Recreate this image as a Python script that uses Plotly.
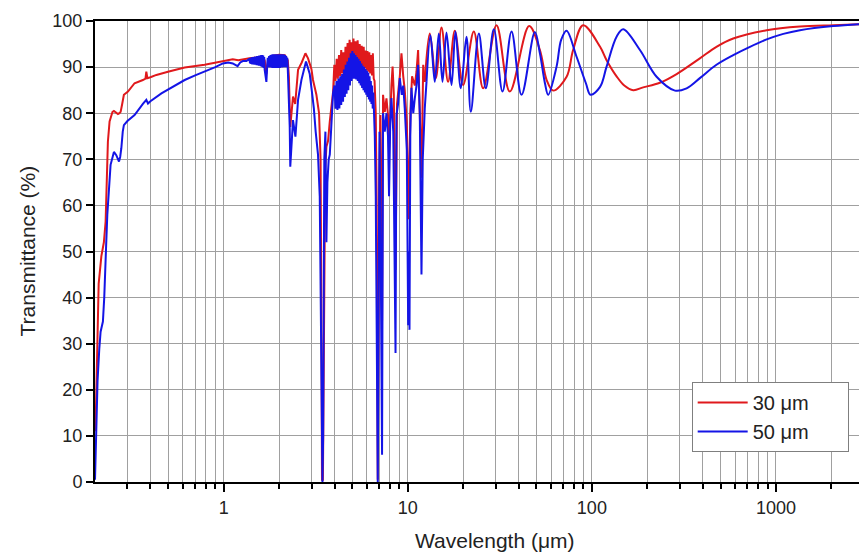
import math
import plotly.graph_objects as go

# ---------------- data ----------------
# 30 um film, short-wavelength / absorption part (linear segments)
wl_30_a = [
    0.2012, 0.2035, 0.2060, 0.2094, 0.2166, 0.2235, 0.2284, 0.2320, 0.2350, 0.2400,
    0.2490, 0.2534, 0.2590, 0.2665, 0.2715, 0.2756, 0.2810, 0.2870, 0.3020, 0.3280,
    0.3640, 0.3760, 0.3800, 0.3850, 0.4000, 0.4310, 0.4980, 0.6140, 0.7880, 0.9900,
    1.1200, 1.2000, 1.2700, 1.3800, 1.5000, 1.6000, 1.6700, 1.7060, 1.7400, 1.8500,
    2.0000, 2.1500, 2.2300, 2.2600, 2.3000, 2.3400, 2.3800, 2.4460, 2.5350, 2.6540,
    2.7800, 2.8720, 2.9960, 3.0570, 3.1890, 3.2960, 3.3600, 3.4000, 3.4200, 3.4600,
    3.5000, 3.5600, 3.6150, 3.6900, 3.7700, 3.8500, 3.9300,
    3.99, 4.05, 4.11, 4.17, 4.23, 4.29, 4.35, 4.41, 4.47, 4.53,
    4.59, 4.65, 4.71, 4.77, 4.83, 4.89, 4.95, 5.01, 5.07, 5.13,
    5.20, 5.27, 5.34, 5.41, 5.48, 5.55, 5.62, 5.69, 5.76, 5.83,
    5.90, 5.97, 6.04, 6.11, 6.18, 6.25, 6.32, 6.39, 6.46, 6.53,
    6.60,
    6.70, 6.78, 6.87, 6.95, 7.00, 7.10, 7.25, 7.34, 7.50, 7.66,
    7.81, 7.91, 8.03, 8.15, 8.27, 8.40, 8.58, 8.74, 9.05, 9.24,
    9.45, 9.63, 9.88, 10.13, 10.32, 10.55, 10.92, 11.15, 11.38, 11.62,
    11.87, 12.13, 12.37,
]
t_30_a = [
    11, 22, 30, 43, 49, 52, 56.5, 65, 73.8, 78.2,
    80.3, 80.5, 80.2, 79.8, 80.0, 80.3, 82, 84, 84.7, 86.5,
    87.2, 87.5, 89, 87.6, 87.8, 88.3, 89, 89.9, 90.5, 91.2,
    91.7, 91.5, 91.6, 91.9, 92.1, 92.3, 91.5, 88.5, 91.5, 92.5,
    92.7, 92.6, 91.5, 88, 77, 80.5, 83.6, 82, 89.4, 91,
    93, 91.9, 89.6, 87.2, 84, 80, 70, 30, 0.5, 0.5,
    40, 68, 72.7, 74, 78.2, 82, 84.7,
    90.5, 87, 91.8, 87.5, 92.6, 88, 93.7, 88.6, 93.2, 89.2,
    94.4, 89.8, 95.2, 90.3, 95.9, 91, 95.4, 91.4, 96.2, 91.5,
    95.6, 91.2, 95.8, 90.8, 95, 90.5, 94.6, 90.2, 94.4, 89.8,
    93.6, 89.3, 93.5, 89, 93.2, 88.6, 92.6, 88.2, 93, 87.5,
    87,
    80, 60, 0.5, 45, 66, 79.6, 35, 84, 80.3, 83.2,
    79.6, 72, 82, 86, 90.1, 84, 46, 82, 88, 93,
    88, 85, 78, 57, 80, 88, 86, 89, 93.7, 80.3,
    66, 90.5, 86.8,
]
# 30 um film, interference-fringe part (smooth)
wl_30_b = [12.37, 13.17, 14.20, 15.25, 16.56, 18.01, 19.98, 22.84, 25.66, 30.34,
           35.84, 45.62, 52.2, 56.8, 61.6, 72.9, 79.1, 89.7, 110.8, 120.2,
           136.2, 150, 167.7, 190, 234, 288.7, 386, 475, 586, 890,
           1350, 2048, 2825]
t_30_b = [86.8, 97.3, 87.6, 98.6, 86.8, 97.9, 86.1, 97.7, 85.4, 99.1,
          84.7, 98.9, 93.7, 87.2, 84.9, 87.9, 93.7, 99.1, 94.4, 91.5,
          88, 86, 85, 85.6, 86.6, 88.5, 91.9, 94.4, 96.2, 98,
          98.8, 99.1, 99.3]

# 50 um film, short-wavelength / absorption part (linear segments)
wl_50_a = [
    0.2000, 0.2015, 0.2033, 0.2065, 0.2111, 0.2145, 0.2208, 0.2245, 0.2296, 0.2333,
    0.2430, 0.2534, 0.2610, 0.2660, 0.2700, 0.2740, 0.2780, 0.2830, 0.2870, 0.3000,
    0.3280, 0.3640, 0.3800, 0.3880, 0.4000, 0.4590, 0.5300, 0.6140, 0.7000, 0.7880,
    0.9000, 0.9900, 1.0600, 1.1200, 1.1900, 1.2300, 1.2700, 1.3300,
    1.38, 1.39, 1.40, 1.41, 1.42, 1.43, 1.44, 1.45, 1.46, 1.47,
    1.48, 1.49, 1.50, 1.51, 1.52, 1.53, 1.54, 1.55, 1.56, 1.57,
    1.58, 1.59, 1.60, 1.61, 1.62, 1.63, 1.64, 1.65, 1.66, 1.67,
    1.685, 1.706, 1.72,
    1.735, 1.75, 1.765, 1.78, 1.795, 1.81, 1.825, 1.84, 1.855, 1.87,
    1.885, 1.90, 1.915, 1.93, 1.945, 1.96, 1.975, 1.99, 2.005, 2.02,
    2.035, 2.05, 2.065, 2.08, 2.095, 2.11, 2.125, 2.14, 2.155, 2.17,
    2.185, 2.20, 2.215, 2.23,
    2.26, 2.284, 2.30, 2.342, 2.38, 2.453, 2.535, 2.644, 2.722, 2.80,
    2.861, 2.934, 3.008, 3.09, 3.16, 3.254, 3.325, 3.38, 3.41, 3.44,
    3.47, 3.52, 3.57, 3.615, 3.66, 3.72, 3.77, 3.85, 3.93,
    4.00, 4.05, 4.10, 4.15, 4.20, 4.25, 4.30, 4.35, 4.40, 4.45,
    4.50, 4.55, 4.60, 4.65, 4.70, 4.75, 4.80, 4.85, 4.90, 4.95,
    5.00, 5.05, 5.10, 5.15, 5.20, 5.25, 5.30, 5.35, 5.40, 5.45,
    5.50, 5.55, 5.60, 5.65, 5.70, 5.75, 5.80, 5.85, 5.90, 5.95,
    6.00, 6.05, 6.10, 6.15, 6.20, 6.25, 6.30, 6.35, 6.40, 6.45,
    6.50, 6.55,
    6.62, 6.70, 6.76, 6.87, 6.95, 7.02, 7.10, 7.25, 7.34, 7.50,
    7.66, 7.81, 7.91, 8.03, 8.15, 8.34, 8.58, 8.68, 8.86, 9.05,
    9.28, 9.45, 9.63, 9.88, 10.05, 10.15, 10.22, 10.32, 10.47, 10.71,
    10.92, 11.15, 11.38, 11.62, 11.87, 12.06, 12.37, 12.64,
]
t_50_a = [
    0.5, 6, 11.7, 22, 29, 32.6, 34.8, 40, 50.7, 58,
    68.8, 71.6, 70.9, 69.8, 69.5, 70.5, 72.4, 76, 77.4, 78.3,
    79.6, 82, 82.9, 82.1, 82.6, 84.3, 85.8, 87.2, 88.2, 89,
    90, 90.8, 91, 90.8, 90.2, 91, 91.3, 91.3,
    91.8, 90.8, 92.0, 90.7, 92.1, 90.6, 92.2, 90.6, 92.2, 90.5,
    92.3, 90.5, 92.3, 90.4, 92.4, 90.4, 92.4, 90.3, 92.5, 90.3,
    92.5, 90.2, 92.6, 90.1, 92.6, 90.0, 92.5, 89.8, 92.2, 89.4,
    88.5, 86.8, 89.5,
    92.0, 90.0, 92.4, 89.9, 92.6, 89.9, 92.7, 89.8, 92.8, 89.8,
    92.8, 89.8, 92.8, 89.8, 92.8, 89.8, 92.8, 89.8, 92.8, 89.8,
    92.8, 89.9, 92.8, 89.9, 92.8, 90.0, 92.7, 90.0, 92.6, 90.0,
    92.4, 90.0, 92.0, 89.5,
    84, 77.1, 68.4, 74, 78.5, 74.9, 82.9, 87.2, 89, 91.2,
    90, 88.5, 85, 81, 76, 71, 62, 25, 0, 0,
    10, 70, 76, 52, 65, 70, 71, 77.4, 84.4,
    86, 81, 87, 80.7, 87.5, 81, 88, 81.8, 88.5, 82.5,
    89.5, 83.5, 90.5, 84.2, 91.2, 85, 92, 86, 93, 87,
    93.5, 87.5, 93, 87.5, 92.6, 87.3, 92.2, 87, 91.8, 86.5,
    91.3, 86, 90.8, 85.5, 90.3, 85, 90, 84.5, 89.6, 84,
    89.2, 83.5, 88.8, 83, 88, 82.5, 87, 82, 86, 81,
    84.5, 80,
    75, 62, 40, 0, 40, 76, 60, 5.9, 80, 76,
    80, 75, 62, 78, 83.3, 76, 28, 79.6, 82, 87.6,
    84, 86, 81, 72, 34, 50, 33, 75, 85.5, 80,
    83.2, 86, 90.5, 80, 45, 70, 81.1, 86.8,
]
# 50 um film, interference-fringe part (smooth)
wl_50_b = [12.64, 13.28, 14.02, 14.74, 15.44, 16.23, 17.28, 18.16, 19.41, 20.84,
           22.0, 24.32, 26.54, 29.34, 32.71, 36.61, 41.49, 49.0, 52.2, 55.6,
           57.88, 64.3, 68.1, 72.88, 82.5, 92.8, 98.4, 110.8, 120.2, 136.2,
           148, 182.4, 224.7, 282.6, 327, 386, 475, 586, 722, 890,
           1096, 1350, 2048, 2825]
t_50_b = [86.8, 96.9, 86.8, 97.3, 86.8, 97.5, 86.1, 97.7, 85.4, 96.6,
          80.3, 97.3, 85.4, 98.2, 84.7, 97.7, 84.0, 97.6, 93, 86.5,
          84.0, 90.1, 95.9, 97.9, 92.3, 86.5, 84.0, 85.7, 90.1, 96.6,
          98.2, 93.7, 87.9, 84.9, 85.4, 87.6, 90.5, 92.6, 94.4, 96,
          97.2, 98, 98.9, 99.3]

PAD = "\u00a0" * 6
series_names = ["30 \u03bcm" + PAD, "50 \u03bcm" + PAD]
x_major = [1, 10, 100, 1000]
x_major_text = ["1", "10", "100", "1000"]
x_minor = [0.3, 0.4, 0.5, 0.6, 0.7, 0.8, 0.9,
           2, 3, 4, 5, 6, 7, 8, 9,
           20, 30, 40, 50, 60, 70, 80, 90,
           200, 300, 400, 500, 600, 700, 800, 900, 2000]
x_limits = [0.2, 2825]
y_ticks = [0, 10, 20, 30, 40, 50, 60, 70, 80, 90, 100]

# ---------------- figure ----------------
RED = "#e0191c"
BLUE = "#1414e6"
LW = 2

fig = go.Figure()
fig.add_trace(go.Scatter(x=wl_30_a, y=t_30_a, mode="lines", name=series_names[0],
                         legendgroup="a", line=dict(color=RED, width=LW)))
fig.add_trace(go.Scatter(x=wl_30_b, y=t_30_b, mode="lines", name=series_names[0],
                         legendgroup="a", showlegend=False,
                         line=dict(color=RED, width=LW, shape="spline", smoothing=1.0)))
fig.add_trace(go.Scatter(x=wl_50_a, y=t_50_a, mode="lines", name=series_names[1],
                         legendgroup="b", line=dict(color=BLUE, width=LW)))
fig.add_trace(go.Scatter(x=wl_50_b, y=t_50_b, mode="lines", name=series_names[1],
                         legendgroup="b", showlegend=False,
                         line=dict(color=BLUE, width=LW, shape="spline", smoothing=1.0)))

GRID = "#a0a0a0"
TXT = "#222222"
fig.update_xaxes(
    type="log",
    range=[math.log10(x_limits[0]), math.log10(x_limits[1])],
    tickmode="array", tickvals=x_major, ticktext=x_major_text,
    ticks="outside", ticklen=8, tickwidth=2, tickcolor="black",
    showline=True, linewidth=2, linecolor="black", mirror=True,
    showgrid=True, gridcolor=GRID, gridwidth=1, zeroline=False,
    tickfont=dict(size=18, color=TXT),
    minor=dict(tickmode="array", tickvals=x_minor, ticks="outside", ticklen=5,
               tickwidth=2, tickcolor="black", showgrid=True,
               gridcolor=GRID, gridwidth=1),
)
fig.update_yaxes(
    range=[0, 100], tickmode="array", tickvals=y_ticks,
    ticks="outside", ticklen=7, tickwidth=2, tickcolor="black",
    showline=True, linewidth=2, linecolor="black", mirror=False,
    showgrid=True, gridcolor=GRID, gridwidth=1, zeroline=False,
    tickfont=dict(size=18, color=TXT),
)

fig.add_annotation(text="Wavelength (\u03bcm)", xref="paper", yref="paper",
                   x=0.524, y=-0.126, showarrow=False, xanchor="center", yanchor="middle",
                   font=dict(size=21, color=TXT))
fig.add_annotation(text="Transmittance (%)", xref="paper", yref="paper",
                   x=-0.089, y=0.5, showarrow=False, textangle=-90,
                   xanchor="center", yanchor="middle",
                   font=dict(size=21, color=TXT))

fig.update_layout(
    width=859, height=552,
    margin=dict(l=95, r=0, t=21, b=70),
    plot_bgcolor="white", paper_bgcolor="white",
    font=dict(family="Arial, 'Liberation Sans', sans-serif", size=18, color=TXT),
    showlegend=True,
    legend=dict(x=0.781, y=0.065, xanchor="left", yanchor="bottom",
                bgcolor="white", bordercolor="#7f7f7f", borderwidth=1,
                font=dict(size=20, color=TXT), itemwidth=50,
                tracegroupgap=0),
)

fig.write_html(
    "out.html",
    config={"displayModeBar": False},
    post_script="document.body.style.margin='0';document.body.style.overflow='hidden';",
)
